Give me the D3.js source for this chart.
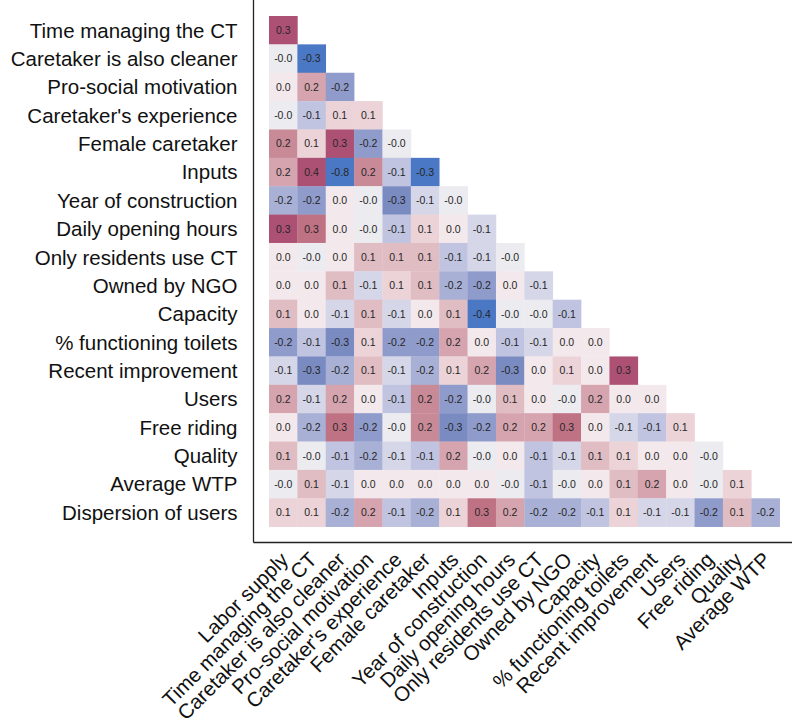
<!DOCTYPE html>
<html>
<head>
<meta charset="utf-8">
<script src="https://cdn.jsdelivr.net/npm/d3@7"></script>
<style>
  html, body { margin: 0; padding: 0; background: #fff; }
  svg { display: block; }
  text { font-family: "Liberation Sans", Arial, Helvetica, sans-serif; }
</style>
</head>
<body>
<div id="chart"></div>
<script>
// Row variables (y axis, top to bottom)
const rowLabels = [
  "Time managing the CT", "Caretaker is also cleaner", "Pro-social motivation",
  "Caretaker's experience", "Female caretaker", "Inputs", "Year of construction",
  "Daily opening hours", "Only residents use CT", "Owned by NGO", "Capacity",
  "% functioning toilets", "Recent improvement", "Users", "Free riding",
  "Quality", "Average WTP", "Dispersion of users"
];
// Column variables (x axis, left to right)
const colLabels = [
  "Labor supply", "Time managing the CT", "Caretaker is also cleaner",
  "Pro-social motivation", "Caretaker's experience", "Female caretaker", "Inputs",
  "Year of construction", "Daily opening hours", "Only residents use CT",
  "Owned by NGO", "Capacity", "% functioning toilets", "Recent improvement",
  "Users", "Free riding", "Quality", "Average WTP"
];
// Lower-triangular correlation values (row i has i+1 entries)
const corrRows = [
  [0.34],
  [-0.02, -0.33],
  [0.02, 0.18, -0.21],
  [-0.02, -0.11, 0.07, 0.07],
  [0.22, 0.07, 0.33, -0.21, -0.02],
  [0.18, 0.38, -0.76, 0.22, -0.11, -0.33],
  [-0.17, -0.21, 0.02, -0.02, -0.27, -0.07, -0.02],
  [0.33, 0.28, 0.02, -0.02, -0.11, 0.07, 0.02, -0.07],
  [0.02, -0.02, 0.02, 0.11, 0.11, 0.11, -0.11, -0.07, -0.02],
  [0.02, 0.02, 0.11, -0.07, 0.07, 0.11, -0.17, -0.21, 0.02, -0.07],
  [0.11, 0.02, -0.07, 0.11, -0.07, 0.02, 0.11, -0.38, -0.02, -0.02, -0.11],
  [-0.21, -0.11, -0.27, 0.07, -0.21, -0.21, 0.18, 0.02, -0.11, -0.07, 0.02, 0.02],
  [-0.07, -0.27, -0.17, 0.11, -0.07, -0.17, 0.07, 0.18, -0.27, 0.02, 0.07, 0.02, 0.33],
  [0.18, -0.07, 0.18, 0.02, -0.11, 0.22, -0.21, -0.02, 0.11, 0.02, -0.02, 0.18, 0.02, 0.02],
  [0.02, -0.17, 0.28, -0.21, -0.02, 0.22, -0.27, -0.21, 0.18, 0.18, 0.28, 0.02, -0.07, -0.11, 0.07],
  [0.11, -0.02, -0.11, -0.17, -0.07, -0.11, 0.18, -0.02, 0.02, -0.11, -0.07, 0.11, 0.07, 0.02, 0.02, -0.02],
  [-0.02, 0.11, -0.07, 0.02, 0.02, 0.02, 0.02, 0.02, -0.02, -0.11, -0.02, 0.02, 0.11, 0.18, 0.02, -0.02, 0.07],
  [0.07, 0.07, -0.17, 0.18, -0.11, -0.17, 0.07, 0.28, 0.18, -0.17, -0.17, -0.11, 0.07, -0.07, -0.07, -0.21, 0.11, -0.17]
];

const W = 792, H = 724;
const svg = d3.select("#chart").append("svg")
  .attr("width", W).attr("height", H)
  .style("background", "#fff");

const axisX0 = 253.5, axisY0 = 542.5;
const gridLeft = 269, gridTop = 16, cell = 28.37;
const labelFont = "20.5px";

const x = d3.scaleBand().domain(colLabels)
  .range([gridLeft, gridLeft + cell * colLabels.length]).padding(0);
const y = d3.scaleBand().domain(rowLabels)
  .range([gridTop, gridTop + cell * rowLabels.length]).padding(0);

const color = d3.scaleLinear()
  .domain([-0.33, -0.27, -0.21, -0.17, -0.11, -0.07, -0.02, 0, 0.02, 0.07, 0.11, 0.18, 0.22, 0.28, 0.33])
  .range(["#4a78c4", "#7a8bc2", "#8f9bcb", "#a8b0d5", "#c0c4e0", "#d5d6e8", "#ebebf0", "#f0eef1",
          "#f3e8eb", "#ebd3d8", "#e0bcc3", "#d5a4ae", "#c98a98", "#bf7284", "#ad5174"])
  .interpolate(d3.interpolateLab)
  .clamp(true);

const cells = [];
corrRows.forEach((row, i) => {
  row.forEach((v, j) => cells.push({ r: rowLabels[i], c: colLabels[j], v }));
});

const g = svg.append("g");
g.selectAll("rect").data(cells).join("rect")
  .attr("x", d => x(d.c))
  .attr("y", d => y(d.r))
  .attr("width", x.bandwidth() + 0.3)
  .attr("height", y.bandwidth() + 0.3)
  .attr("fill", d => color(d.v));

g.selectAll("text.val").data(cells).join("text")
  .attr("class", "val")
  .attr("x", d => x(d.c) + x.bandwidth() / 2)
  .attr("y", d => y(d.r) + y.bandwidth() / 2)
  .attr("dy", "0.36em")
  .attr("text-anchor", "middle")
  .attr("font-size", "10.5px")
  .attr("fill", "#262626")
  .text(d => d.v.toFixed(1));

// Y axis labels
const yAxis = svg.append("g")
  .attr("transform", `translate(${axisX0},0)`)
  .call(d3.axisLeft(y).tickSize(0).tickPadding(16));
yAxis.select(".domain").remove();
yAxis.selectAll("text")
  .attr("font-size", labelFont)
  .attr("font-family", "\"Liberation Sans\", Arial, Helvetica, sans-serif")
  .attr("fill", "#111")
  .attr("dy", "0.36em");

// X axis labels, rotated
const xAxis = svg.append("g")
  .attr("transform", `translate(0,${axisY0})`)
  .call(d3.axisBottom(x).tickSize(0));
xAxis.select(".domain").remove();
xAxis.selectAll("text")
  .attr("font-size", labelFont)
  .attr("font-family", "\"Liberation Sans\", Arial, Helvetica, sans-serif")
  .attr("fill", "#111")
  .attr("x", 0).attr("y", 0)
  .attr("dy", "0.72em")
  .attr("text-anchor", "end")
  .attr("transform", "translate(-4,8) rotate(-45)");

// Spines
svg.append("line")
  .attr("x1", axisX0).attr("x2", axisX0).attr("y1", 0).attr("y2", axisY0)
  .attr("stroke", "#222").attr("stroke-width", 1.3);
svg.append("line")
  .attr("x1", axisX0).attr("x2", W).attr("y1", axisY0).attr("y2", axisY0)
  .attr("stroke", "#222").attr("stroke-width", 1.3);
</script>
</body>
</html>
